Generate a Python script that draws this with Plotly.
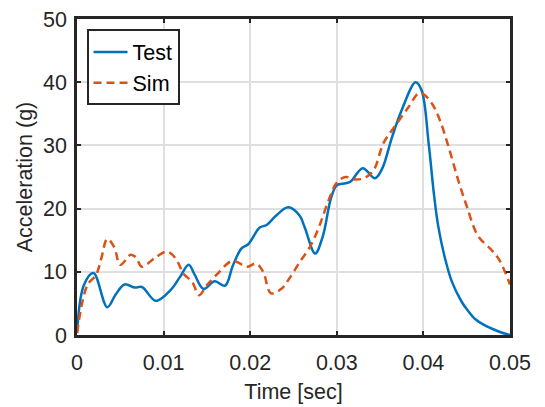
import plotly.graph_objects as go

# Measured acceleration (Test) vs. simulation (Sim)
t_test = [0, 0.0008, 0.0019, 0.0035, 0.0045, 0.0055, 0.0067, 0.0075, 0.0091, 0.0108,
          0.0119, 0.0129, 0.0136, 0.0146, 0.0159, 0.0171, 0.018, 0.019, 0.0198, 0.0211,
          0.0219, 0.023, 0.0244, 0.0257, 0.0263, 0.0275, 0.0284, 0.0293, 0.030, 0.031,
          0.0316, 0.033, 0.0344, 0.0352, 0.0364, 0.0375, 0.0391, 0.0398, 0.0406, 0.0412,
          0.0417, 0.0425, 0.0433, 0.0444, 0.045, 0.046, 0.047, 0.048, 0.049, 0.05]
acc_test = [0.3, 7.9, 9.8, 4.4, 6.5, 8.0, 7.5, 7.6, 5.4, 7.1,
            9.2, 11.1, 9.5, 7.3, 8.5, 7.8, 11.0, 13.7, 14.4, 17.0,
            17.4, 18.9, 20.2, 18.9, 17.0, 12.9, 15.7, 21.5, 23.7, 24.0,
            24.3, 26.4, 24.8, 26.2, 31.4, 35.6, 40.0, 38.7, 30.4, 22.5,
            17.3, 12.1, 8.4, 5.3, 4.1, 2.5, 1.6, 0.95, 0.4, 0.0]

t_sim = [0, 0.0012, 0.0022, 0.0028, 0.0035, 0.0043, 0.005, 0.0062, 0.0068, 0.0075,
         0.0089, 0.0104, 0.0114, 0.0123, 0.0133, 0.0141, 0.015, 0.0161, 0.0177, 0.0184,
         0.0196, 0.0207, 0.0215, 0.0224, 0.0236, 0.0245, 0.0257, 0.027, 0.028, 0.0291,
         0.030, 0.031, 0.0322, 0.0333, 0.0343, 0.0354, 0.0368, 0.0383, 0.0394, 0.040,
         0.041, 0.0419, 0.0429, 0.044, 0.045, 0.0463, 0.0479, 0.0488, 0.05]
acc_sim = [0.3, 7.9, 9.5, 12.1, 15.2, 13.9, 11.1, 12.7, 12.3, 10.8,
           12.1, 13.2, 12.1, 9.7, 8.4, 6.3, 7.9, 9.5, 11.6, 11.6,
           10.8, 11.3, 10.0, 6.6, 7.3, 8.9, 11.5, 14.2, 17.3, 21.5,
           24.1, 25.0, 24.6, 24.9, 26.2, 30.4, 33.2, 36.1, 38.2, 38.1,
           36.6, 34.0, 29.8, 24.6, 20.4, 15.7, 13.4, 11.8, 8.0]

x_ticks = [0, 0.01, 0.02, 0.03, 0.04, 0.05]
x_tick_labels = ["0", "0.01", "0.02", "0.03", "0.04", "0.05"]
y_ticks = [0, 10, 20, 30, 40, 50]

FONT = "Liberation Sans, Arial, Helvetica, sans-serif"
INK = "#262626"
FS = 21.5

fig = go.Figure()
fig.add_trace(go.Scatter(
    x=t_test, y=acc_test, name="Test", mode="lines",
    line=dict(color="#0072BD", width=2.5, shape="spline", smoothing=1.0),
))
fig.add_trace(go.Scatter(
    x=t_sim, y=acc_sim, name="Sim", mode="lines",
    line=dict(color="#D95319", width=2.5, dash="8px,5px", shape="spline", smoothing=1.0),
))

axis_common = dict(
    showline=True, linecolor=INK, linewidth=2.5, mirror="ticks",
    ticks="inside", ticklen=4, tickwidth=2, tickcolor=INK,
    showgrid=True, gridcolor="#dfdfdf", gridwidth=2,
    zeroline=False, automargin=False,
    tickfont=dict(family=FONT, size=FS, color=INK),
)

fig.update_layout(
    width=545, height=407,
    margin=dict(l=77, r=35, t=19, b=72),
    paper_bgcolor="white", plot_bgcolor="white",
    font=dict(family=FONT, size=FS, color=INK),
    showlegend=True,
    legend=dict(
        x=0.022, y=0.967, xanchor="left", yanchor="top",
        bgcolor="white", bordercolor=INK, borderwidth=2,
        font=dict(family=FONT, size=FS, color="#000000"),
        tracegroupgap=0, itemwidth=34,
    ),
    xaxis=dict(
        range=[0, 0.05], tickvals=x_ticks, ticktext=x_tick_labels,
        ticklabelstandoff=6,
        title=dict(text="Time [sec]", font=dict(family=FONT, size=FS, color=INK), standoff=11),
        **axis_common,
    ),
    yaxis=dict(
        range=[0, 50], tickvals=y_ticks,
        ticklabelstandoff=3,
        title=dict(text="Acceleration (g)", font=dict(family=FONT, size=FS, color=INK), standoff=5),
        **axis_common,
    ),
)

fig.write_html("out.html")
